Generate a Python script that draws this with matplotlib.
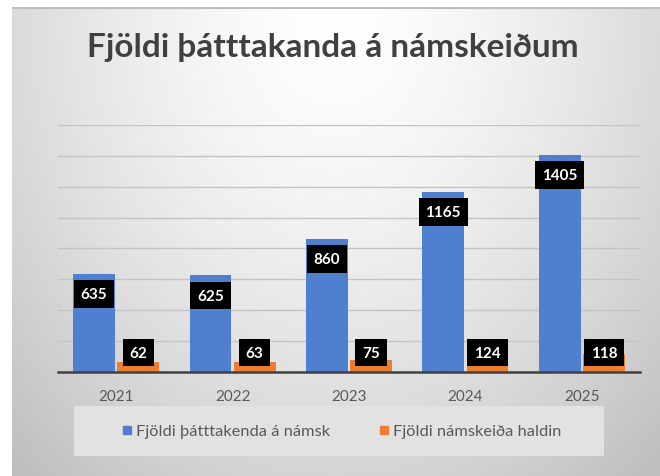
import matplotlib
matplotlib.use("Agg")
import matplotlib.pyplot as plt
import numpy as np
from matplotlib.lines import Line2D
from matplotlib.patches import Rectangle

years = ["2021", "2022", "2023", "2024", "2025"]
participants = [635, 625, 860, 1165, 1405]
courses = [62, 63, 75, 124, 118]

title = "Fjöldi þátttakanda á námskeiðum"
name_participants = "Fjöldi þátttakenda á námsk"
name_courses = "Fjöldi námskeiða haldin"

blue = "#4f7fcf"
orange = "#ED7D31"
plt.rcParams["font.family"] = ["Lato", "DejaVu Sans"]

W, H = 660, 477
fig = plt.figure(figsize=(W / 100, H / 100), dpi=100)
fig.patch.set_facecolor("white")

# gradient background of the chart area
bg = fig.add_axes([12 / W, 0, (W - 12) / W, (H - 8) / H])
gx, gy = np.meshgrid(np.linspace(0, 1, 400), np.linspace(0, 1, 300))
d = np.sqrt(((gx - 0.5) / 0.5) ** 2 + (gy / 0.9) ** 2)
shade = np.clip(255 - 36 * d ** 1.5, 190, 255) / 255.0
bg.imshow(np.dstack([shade] * 3), aspect="auto", extent=(0, 1, 1, 0))
bg.plot([0, 1], [0.002, 0.002], color="#bdbdbd", lw=1.5)
bg.set_xlim(0, 1)
bg.set_ylim(1, 0)
bg.axis("off")

ax = fig.add_axes([58 / W, (H - 373) / H, 582 / W, (373 - 125.8) / H])
ax.set_facecolor("none")
x = np.arange(len(years))
w = 0.36
b1 = ax.bar(x - 0.19, participants, w, color=blue, zorder=3)
b2 = ax.bar(x + 0.19, courses, w, color=orange, zorder=3)

box = dict(boxstyle="square,pad=0.45", fc="black", ec="none")
for rect, v in zip(b1, participants):
    ax.annotate(str(v), (rect.get_x() + rect.get_width() / 2, v),
                xytext=(0, -14.5), textcoords="offset points",
                ha="center", va="center", color="white", fontsize=11,
                fontweight="bold", bbox=box, zorder=5)
for rect, v in zip(b2, courses):
    ax.annotate(str(v), (rect.get_x() + rect.get_width() / 2, 126),
                ha="center", va="center", color="white", fontsize=11,
                fontweight="bold", bbox=box, zorder=5)

ax.set_xlim(-0.5, len(years) - 0.5)
ax.set_ylim(0, 1600)
ax.set_yticks(np.arange(0, 1601, 200))
ax.yaxis.grid(True, color="#c4c4c4", lw=1, zorder=0)
ax.tick_params(left=False, labelleft=False, bottom=False, labelsize=11,
               labelcolor="#595959", pad=9)
ax.set_xticks(x)
ax.set_xticklabels(years)
for s in ["top", "right", "left"]:
    ax.spines[s].set_visible(False)
ax.spines["bottom"].set_color("#404040")
ax.spines["bottom"].set_linewidth(1.8)
ax.spines["bottom"].set_zorder(4)

fig.text(333 / W, 1 - 47 / H, title, ha="center", va="center",
         fontsize=24, fontweight="bold", color="#404040")

# legend box
fig.patches.append(Rectangle((74 / W, 1 - 457 / H), 530 / W, 50 / H,
                             transform=fig.transFigure, fc="#e2e2e2",
                             ec="none", zorder=1))
handles = [Line2D([], [], marker="s", ls="none", color=blue, markersize=6),
           Line2D([], [], marker="s", ls="none", color=orange, markersize=6)]
fig.legend(handles, [name_participants, name_courses], ncol=2,
           loc="center", bbox_to_anchor=(342 / W, 1 - 432 / H),
           frameon=False, fontsize=11.8, labelcolor="#595959",
           handlelength=0.55, handletextpad=0.3, columnspacing=3.0)

fig.savefig("out.png", dpi=100)
